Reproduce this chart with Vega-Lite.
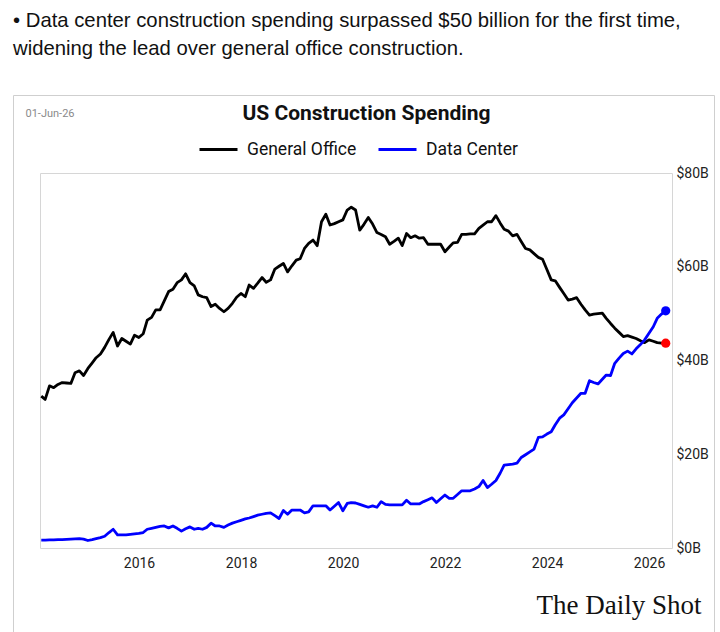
{
  "$schema": "https://vega.github.io/schema/vega-lite/v6.json",
  "width": 701,
  "height": 537,
  "autosize": "none",
  "padding": {"left": 13, "top": 95, "right": 6, "bottom": 0},
  "background": "white",
  "title": {
    "text": ["• Data center construction spending surpassed $50 billion for the first time,", "widening the lead over general office construction."],
    "anchor": "start",
    "frame": "group",
    "offset": 36,
    "font": "Liberation Sans",
    "fontSize": 20.3,
    "fontWeight": "normal",
    "color": "#111111",
    "lineHeight": 28
  },
  "config": {
    "view": {"stroke": "#cfcfcf", "strokeWidth": 1},
    "axis": {"grid": false, "ticks": false, "domainColor": "#d6d6d6", "domainWidth": 1}
  },
  "data": {
    "values": [
      {"d": "2014-01-31", "o": 32.4, "c": 1.7}, {"d": "2014-02-28", "o": 31.7, "c": 1.7}, {"d": "2014-03-31", "o": 34.6, "c": 1.75}, {"d": "2014-04-30", "o": 34.2, "c": 1.75},
      {"d": "2014-05-31", "o": 34.9, "c": 1.8}, {"d": "2014-06-30", "o": 35.3, "c": 1.8}, {"d": "2014-07-31", "o": 35.2, "c": 1.85}, {"d": "2014-08-31", "o": 35.1, "c": 1.9},
      {"d": "2014-09-30", "o": 37.4, "c": 1.95}, {"d": "2014-10-31", "o": 37.8, "c": 2.0}, {"d": "2014-11-30", "o": 36.8, "c": 1.9}, {"d": "2014-12-31", "o": 38.3, "c": 1.6},
      {"d": "2015-01-31", "o": 39.5, "c": 1.8}, {"d": "2015-02-28", "o": 40.6, "c": 2.0}, {"d": "2015-03-31", "o": 41.4, "c": 2.2}, {"d": "2015-04-30", "o": 42.8, "c": 2.5},
      {"d": "2015-05-31", "o": 44.5, "c": 3.3}, {"d": "2015-06-30", "o": 46.0, "c": 4.0}, {"d": "2015-07-31", "o": 43.1, "c": 2.8}, {"d": "2015-08-31", "o": 44.7, "c": 2.8},
      {"d": "2015-09-30", "o": 44.1, "c": 2.8}, {"d": "2015-10-31", "o": 43.5, "c": 2.9}, {"d": "2015-11-30", "o": 45.4, "c": 3.0}, {"d": "2015-12-31", "o": 44.9, "c": 3.1},
      {"d": "2016-01-31", "o": 45.7, "c": 3.3}, {"d": "2016-02-29", "o": 48.6, "c": 4.0}, {"d": "2016-03-31", "o": 49.2, "c": 4.2}, {"d": "2016-04-30", "o": 50.8, "c": 4.4},
      {"d": "2016-05-31", "o": 50.8, "c": 4.6}, {"d": "2016-06-30", "o": 52.7, "c": 4.7}, {"d": "2016-07-31", "o": 54.7, "c": 4.3}, {"d": "2016-08-31", "o": 55.2, "c": 4.7},
      {"d": "2016-09-30", "o": 56.6, "c": 4.2}, {"d": "2016-10-31", "o": 57.2, "c": 3.6}, {"d": "2016-11-30", "o": 58.5, "c": 4.1}, {"d": "2016-12-31", "o": 56.6, "c": 4.5},
      {"d": "2017-01-31", "o": 55.9, "c": 4.0}, {"d": "2017-02-28", "o": 54.0, "c": 4.2}, {"d": "2017-03-31", "o": 53.6, "c": 4.0}, {"d": "2017-04-30", "o": 53.4, "c": 4.4},
      {"d": "2017-05-31", "o": 51.5, "c": 5.3}, {"d": "2017-06-30", "o": 52.0, "c": 4.7}, {"d": "2017-07-31", "o": 51.1, "c": 4.7}, {"d": "2017-08-31", "o": 50.4, "c": 4.4},
      {"d": "2017-09-30", "o": 51.1, "c": 4.9}, {"d": "2017-10-31", "o": 52.2, "c": 5.3}, {"d": "2017-11-30", "o": 53.5, "c": 5.6}, {"d": "2017-12-31", "o": 54.3, "c": 5.9},
      {"d": "2018-01-31", "o": 53.6, "c": 6.2}, {"d": "2018-02-28", "o": 56.1, "c": 6.4}, {"d": "2018-03-31", "o": 55.4, "c": 6.7}, {"d": "2018-04-30", "o": 56.5, "c": 7.0},
      {"d": "2018-05-31", "o": 57.7, "c": 7.2}, {"d": "2018-06-30", "o": 56.7, "c": 7.4}, {"d": "2018-07-31", "o": 57.2, "c": 7.5}, {"d": "2018-08-31", "o": 59.5, "c": 6.9},
      {"d": "2018-09-30", "o": 60.1, "c": 6.3}, {"d": "2018-10-31", "o": 60.7, "c": 8.0}, {"d": "2018-11-30", "o": 58.9, "c": 7.2}, {"d": "2018-12-31", "o": 60.2, "c": 8.1},
      {"d": "2019-01-31", "o": 61.4, "c": 8.1}, {"d": "2019-02-28", "o": 61.7, "c": 8.1}, {"d": "2019-03-31", "o": 63.9, "c": 7.5}, {"d": "2019-04-30", "o": 65.0, "c": 7.7},
      {"d": "2019-05-31", "o": 65.7, "c": 9.0}, {"d": "2019-06-30", "o": 64.5, "c": 9.0}, {"d": "2019-07-31", "o": 69.6, "c": 9.0}, {"d": "2019-08-31", "o": 71.2, "c": 9.0},
      {"d": "2019-09-30", "o": 68.9, "c": 8.1}, {"d": "2019-10-31", "o": 69.2, "c": 8.9}, {"d": "2019-11-30", "o": 69.6, "c": 9.7}, {"d": "2019-12-31", "o": 70.0, "c": 7.95},
      {"d": "2020-01-31", "o": 72.1, "c": 9.5}, {"d": "2020-02-29", "o": 72.7, "c": 9.7}, {"d": "2020-03-31", "o": 72.1, "c": 9.6}, {"d": "2020-04-30", "o": 67.8, "c": 9.3},
      {"d": "2020-05-31", "o": 69.1, "c": 9.0}, {"d": "2020-06-30", "o": 70.5, "c": 8.7}, {"d": "2020-07-31", "o": 69.1, "c": 9.0}, {"d": "2020-08-31", "o": 67.3, "c": 8.7},
      {"d": "2020-09-30", "o": 66.9, "c": 9.9}, {"d": "2020-10-31", "o": 66.4, "c": 9.3}, {"d": "2020-11-30", "o": 64.8, "c": 9.2}, {"d": "2020-12-31", "o": 65.4, "c": 9.2},
      {"d": "2021-01-31", "o": 66.1, "c": 9.2}, {"d": "2021-02-28", "o": 64.5, "c": 9.2}, {"d": "2021-03-31", "o": 67.1, "c": 10.2}, {"d": "2021-04-30", "o": 66.2, "c": 9.4},
      {"d": "2021-05-31", "o": 66.6, "c": 9.4}, {"d": "2021-06-30", "o": 66.1, "c": 9.4}, {"d": "2021-07-31", "o": 66.2, "c": 9.9}, {"d": "2021-08-31", "o": 64.8, "c": 10.3},
      {"d": "2021-09-30", "o": 64.8, "c": 10.7}, {"d": "2021-10-31", "o": 64.8, "c": 9.7}, {"d": "2021-11-30", "o": 64.8, "c": 10.5}, {"d": "2021-12-31", "o": 63.2, "c": 11.3},
      {"d": "2022-01-31", "o": 64.2, "c": 10.6}, {"d": "2022-02-28", "o": 65.1, "c": 10.6}, {"d": "2022-03-31", "o": 65.2, "c": 11.4}, {"d": "2022-04-30", "o": 66.9, "c": 12.2},
      {"d": "2022-05-31", "o": 66.9, "c": 12.2}, {"d": "2022-06-30", "o": 67.0, "c": 12.2}, {"d": "2022-07-31", "o": 67.0, "c": 12.6}, {"d": "2022-08-31", "o": 68.2, "c": 13.1},
      {"d": "2022-09-30", "o": 68.9, "c": 14.4}, {"d": "2022-10-31", "o": 69.6, "c": 12.9}, {"d": "2022-11-30", "o": 69.6, "c": 13.6}, {"d": "2022-12-31", "o": 70.9, "c": 14.4},
      {"d": "2023-01-31", "o": 69.3, "c": 16.0}, {"d": "2023-02-28", "o": 68.0, "c": 17.7}, {"d": "2023-03-31", "o": 67.6, "c": 17.8}, {"d": "2023-04-30", "o": 66.6, "c": 17.9},
      {"d": "2023-05-31", "o": 66.9, "c": 18.1}, {"d": "2023-06-30", "o": 65.4, "c": 19.3}, {"d": "2023-07-31", "o": 63.9, "c": 19.9}, {"d": "2023-08-31", "o": 63.6, "c": 20.5},
      {"d": "2023-09-30", "o": 62.8, "c": 21.1}, {"d": "2023-10-31", "o": 62.0, "c": 23.6}, {"d": "2023-11-30", "o": 61.6, "c": 23.7}, {"d": "2023-12-31", "o": 59.4, "c": 24.3},
      {"d": "2024-01-31", "o": 57.2, "c": 24.8}, {"d": "2024-02-29", "o": 57.0, "c": 26.3}, {"d": "2024-03-31", "o": 55.6, "c": 27.7}, {"d": "2024-04-30", "o": 54.3, "c": 28.4},
      {"d": "2024-05-31", "o": 52.9, "c": 29.7}, {"d": "2024-06-30", "o": 53.1, "c": 31.0}, {"d": "2024-07-31", "o": 53.4, "c": 32.0}, {"d": "2024-08-31", "o": 52.0, "c": 33.0},
      {"d": "2024-09-30", "o": 50.8, "c": 33.0}, {"d": "2024-10-31", "o": 49.7, "c": 35.7}, {"d": "2024-11-30", "o": 49.9, "c": 35.3}, {"d": "2024-12-31", "o": 50.0, "c": 35.0},
      {"d": "2025-01-31", "o": 50.1, "c": 36.0}, {"d": "2025-02-28", "o": 49.0, "c": 36.9}, {"d": "2025-03-31", "o": 47.9, "c": 36.8}, {"d": "2025-04-30", "o": 46.9, "c": 39.4},
      {"d": "2025-05-31", "o": 46.0, "c": 40.5}, {"d": "2025-06-30", "o": 45.1, "c": 41.5}, {"d": "2025-07-31", "o": 45.3, "c": 42.0}, {"d": "2025-08-31", "o": 45.0, "c": 41.4},
      {"d": "2025-09-30", "o": 44.7, "c": 42.5}, {"d": "2025-10-31", "o": 44.2, "c": 43.4}, {"d": "2025-11-30", "o": 43.8, "c": 44.4}, {"d": "2025-12-31", "o": 44.4, "c": 45.8},
      {"d": "2026-01-31", "o": 44.1, "c": 47.2}, {"d": "2026-02-28", "o": 43.8, "c": 49.0}, {"d": "2026-03-31", "o": 43.7, "c": 49.9}, {"d": "2026-04-30", "o": 43.7, "c": 50.6}
    ]
  },
  "layer": [
    {
      "mark": {"type": "line", "strokeWidth": 2.8, "strokeJoin": "round"},
      "encoding": {
        "x": {
          "field": "d",
          "type": "temporal",
          "scale": {
            "type": "utc",
            "domain": [{"year": 2014, "month": 1, "date": 22, "utc": true}, {"year": 2026, "month": 6, "date": 14, "utc": true}],
            "range": [27, 659]
          },
          "axis": {
            "orient": "bottom",
            "offset": -84,
            "format": "%Y",
            "tickCount": {"interval": "year", "step": 2},
            "labelPadding": 8,
            "labelFont": "Roboto",
            "labelFontSize": 14,
            "labelColor": "#222222",
            "title": "The Daily Shot",
            "titleX": 523,
            "titleY": 57,
            "titleAlign": "left",
            "titleBaseline": "middle",
            "titleFont": "Liberation Serif",
            "titleFontSize": 27,
            "titleFontWeight": "normal",
            "titleColor": "#111111"
          }
        },
        "y": {
          "field": "o",
          "type": "quantitative",
          "scale": {"domain": [0, 80], "range": [453, 78], "nice": false},
          "axis": {
            "orient": "right",
            "offset": -42,
            "values": [0, 20, 40, 60, 80],
            "labelExpr": "'$' + datum.value + 'B'",
            "labelPadding": 4,
            "labelFont": "Roboto",
            "labelFontSize": 14,
            "labelColor": "#222222",
            "title": null
          }
        },
        "color": {
          "datum": "General Office",
          "scale": {"domain": ["General Office", "Data Center"], "range": ["#000000", "#0000ff"]},
          "legend": {
            "orient": "none",
            "legendX": 185,
            "legendY": 34,
            "direction": "horizontal",
            "title": null,
            "symbolType": "stroke",
            "symbolSize": 1444,
            "symbolStrokeWidth": 3,
            "labelFont": "Roboto",
            "labelFontSize": 17.5,
            "labelColor": "#111111",
            "labelOffset": 8,
            "columnPadding": 15,
            "padding": 0
          }
        }
      }
    },
    {
      "mark": {"type": "line", "strokeWidth": 2.8, "strokeJoin": "round"},
      "encoding": {
        "x": {"field": "d", "type": "temporal", "axis": null},
        "y": {"field": "c", "type": "quantitative", "axis": null},
        "color": {"datum": "Data Center"}
      }
    },
    {
      "transform": [{"filter": "time(datum.d) === time('2026-04-30')"}],
      "mark": {"type": "point", "filled": true, "opacity": 1, "size": 85, "color": "#ff0000"},
      "encoding": {
        "x": {
          "field": "d",
          "type": "temporal",
          "axis": {
            "orient": "top",
            "offset": -78,
            "labels": false,
            "title": "US Construction Spending",
            "titleX": 353,
            "titleY": -60,
            "titleAlign": "center",
            "titleBaseline": "middle",
            "titleFont": "Roboto",
            "titleFontSize": 21,
            "titleFontWeight": "bold",
            "titleColor": "#111111"
          }
        },
        "y": {
          "field": "o",
          "type": "quantitative",
          "axis": {
            "orient": "left",
            "offset": -27,
            "labels": false,
            "title": "01-Jun-26",
            "titleAngle": 0,
            "titleX": -15,
            "titleY": 18,
            "titleAlign": "left",
            "titleBaseline": "middle",
            "titleFont": "Roboto",
            "titleFontSize": 11,
            "titleFontWeight": "normal",
            "titleColor": "#8a8a8a"
          }
        }
      }
    },
    {
      "transform": [{"filter": "time(datum.d) === time('2026-04-30')"}],
      "mark": {"type": "point", "filled": true, "opacity": 1, "size": 85, "color": "#0000ff"},
      "encoding": {
        "x": {"field": "d", "type": "temporal", "axis": null},
        "y": {"field": "c", "type": "quantitative", "axis": null}
      }
    }
  ],
  "resolve": {"axis": {"x": "independent", "y": "independent"}}
}
